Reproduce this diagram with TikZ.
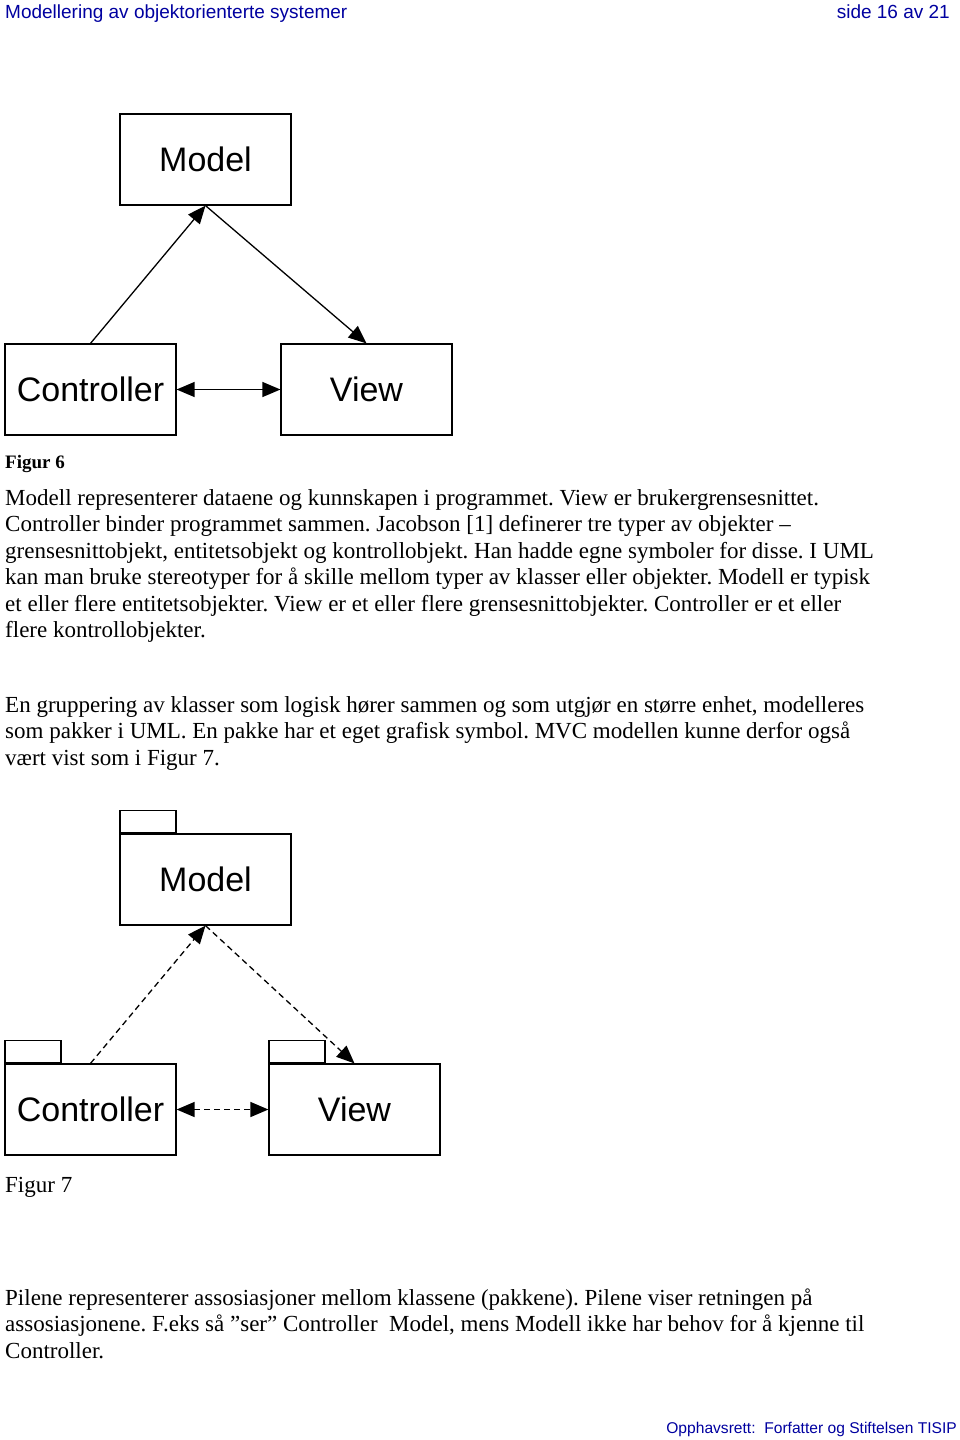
\documentclass[tikz,border=0pt]{standalone}
\usepackage{fontspec}
\setmainfont{Liberation Serif}
\newfontfamily\arial{Liberation Sans}
\usetikzlibrary{arrows.meta}
\frenchspacing
\definecolor{hdrblue}{RGB}{0,0,160}
\tikzset{
  umlbox/.style={draw, line width=1.2pt, minimum width=171pt, minimum height=91pt, inner sep=0pt, font=\arial\fontsize{34}{40}\selectfont},
  pkgtab/.style={draw, line width=1.2pt, minimum width=56pt, minimum height=22pt, inner sep=0pt, anchor=south west},
  assoc/.style={line width=1.3pt, -{Triangle[length=18pt,width=15pt]}},
  assocboth/.style={line width=1.3pt, {Triangle[length=18pt,width=15pt]}-{Triangle[length=18pt,width=15pt]}},
  dashline/.style={dash pattern=on 6pt off 4pt},
  body/.style={anchor=base west, inner sep=0pt, font=\fontsize{23}{26.5}\selectfont},
  hdr/.style={inner sep=0pt, text=hdrblue, font=\arial\fontsize{19}{22}\selectfont},
  ftr/.style={inner sep=0pt, text=hdrblue, font=\arial\fontsize{15.6}{18}\selectfont},
}
\begin{document}
\begin{tikzpicture}[x=1pt,y=-1pt]
\useasboundingbox[fill=white] (0,0) rectangle (960,1440);

% header
\node[hdr, anchor=base west] (hl) at (5,18) {Modellering av objektorienterte systemer};
\node[hdr, anchor=base east] (hr) at (950,18) {side 16 av 21};

% Figure 6
\node[umlbox] (m1) at (205.5,159.5) {Model};
\node[umlbox] (c1) at (90.5,389.5) {Controller};
\node[umlbox] (v1) at (366.5,389.5) {View};
\draw[assoc] (c1.north) -- (m1.south);
\draw[assoc] (m1.south) -- (v1.north);
\draw[assocboth] (c1.east) -- (v1.west);

\node[body, font=\bfseries\fontsize{19}{22}\selectfont] (f6) at (5,468) {Figur 6};

\node[body] (p1a) at (5,505) {Modell representerer dataene og kunnskapen i programmet. View er brukergrensesnittet.};
\node[body] (p1b) at (5,531.5) {Controller binder programmet sammen. Jacobson [1] definerer tre typer av objekter –};
\node[body] (p1c) at (5,558) {grensesnittobjekt, entitetsobjekt og kontrollobjekt. Han hadde egne symboler for disse. I UML};
\node[body] (p1d) at (5,584.5) {kan man bruke stereotyper for å skille mellom typer av klasser eller objekter. Modell er typisk};
\node[body] (p1e) at (5,611) {et eller flere entitetsobjekter. View er et eller flere grensesnittobjekter. Controller er et eller};
\node[body] (p1f) at (5,637.5) {flere kontrollobjekter.};

\node[body] (p2a) at (5,712) {En gruppering av klasser som logisk hører sammen og som utgjør en større enhet, modelleres};
\node[body] (p2b) at (5,738.5) {som pakker i UML. En pakke har et eget grafisk symbol. MVC modellen kunne derfor også};
\node[body] (p2c) at (5,765) {vært vist som i Figur 7.};

% Figure 7
\node[umlbox] (m2) at (205.5,879.5) {Model};
\node[pkgtab] (m2t) at (m2.north west) {};
\node[umlbox] (c2) at (90.5,1109.5) {Controller};
\node[pkgtab] (c2t) at (c2.north west) {};
\node[umlbox] (v2) at (354.5,1109.5) {View};
\node[pkgtab] (v2t) at (v2.north west) {};
\draw[assoc, dashline] (c2.north) -- (m2.south);
\draw[assoc, dashline] (m2.south) -- (v2.north);
\draw[assocboth, dashline] (c2.east) -- (v2.west);

\node[body] (f7) at (5,1192) {Figur 7};

\node[body] (p3a) at (5,1305) {Pilene representerer assosiasjoner mellom klassene (pakkene). Pilene viser retningen på};
\node[body] (p3b) at (5,1331.5) {assosiasjonene. F.eks så ”ser” Controller\ \ Model, mens Modell ikke har behov for å kjenne til};
\node[body] (p3c) at (5,1358) {Controller.};

% footer
\node[ftr, anchor=base east] (ft) at (957,1433) {Opphavsrett:\ \ Forfatter og Stiftelsen TISIP};
\end{tikzpicture}
\end{document}
